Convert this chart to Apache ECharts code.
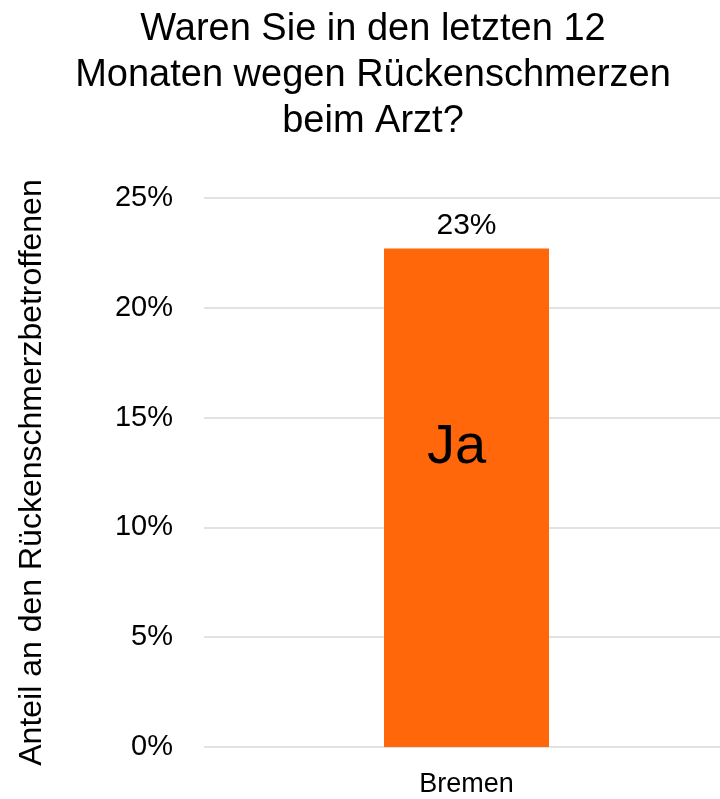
<!DOCTYPE html>
<html>
<head>
<meta charset="utf-8">
<script src="https://cdn.jsdelivr.net/npm/echarts@6/dist/echarts.min.js"></script>
<style>html,body{margin:0;padding:0;background:#fff;}#c{width:720px;height:799px;}</style>
</head>
<body>
<div id="c"></div>
<script>
const titleText = 'Waren Sie in den letzten 12\nMonaten wegen Rückenschmerzen\nbeim Arzt?';
const categories = ['Bremen'];
const values = [22.7];
const barLabel = 'Ja';
const yTicks = [0, 5, 10, 15, 20, 25];
const yAxisName = 'Anteil an den Rückenschmerzbetroffenen';

const FONT = '"Liberation Sans", Arial, Helvetica, sans-serif';
const chart = echarts.init(document.getElementById('c'));
chart.setOption({
  animation: false,
  title: {
    text: titleText,
    left: 368,
    textAlign: 'center',
    top: 2,
    textStyle: { fontFamily: FONT, fontSize: 38, fontWeight: 'normal', color: '#000', lineHeight: 46, align: 'center' }
  },
  grid: { left: 204, width: 525, top: 198, bottom: 52, containLabel: false, outerBoundsMode: 'none' },
  xAxis: {
    type: 'category',
    data: categories,
    axisLine: { show: false },
    axisTick: { show: false },
    axisLabel: { fontFamily: FONT, fontSize: 27, color: '#000', margin: 24 }
  },
  yAxis: {
    type: 'value',
    min: yTicks[0],
    max: yTicks[yTicks.length - 1],
    interval: 5,
    name: yAxisName,
    nameLocation: 'middle',
    nameGap: 156,
    nameTextStyle: { fontFamily: FONT, fontSize: 32, color: '#000' },
    axisLine: { show: false },
    axisTick: { show: false },
    axisLabel: { fontFamily: FONT, fontSize: 29, color: '#000', margin: 31, formatter: v => v + '%' },
    splitLine: { lineStyle: { color: '#d9d9d9', width: 1.5 } }
  },
  series: [
    {
      type: 'bar',
      data: values,
      barWidth: 165,
      itemStyle: { color: '#FF670A' },
      label: {
        show: true,
        position: 'inside',
        formatter: barLabel,
        fontFamily: FONT,
        fontSize: 56,
        color: '#000',
        offset: [-10, -50]
      },
      z: 2
    },
    {
      type: 'bar',
      data: values,
      barWidth: 165,
      barGap: '-100%',
      itemStyle: { color: 'rgba(0,0,0,0)' },
      label: {
        show: true,
        position: 'top',
        distance: 8,
        formatter: p => Math.round(p.value) + '%',
        fontFamily: FONT,
        fontSize: 30,
        color: '#000'
      },
      z: 3
    }
  ]
});
</script>
</body>
</html>
